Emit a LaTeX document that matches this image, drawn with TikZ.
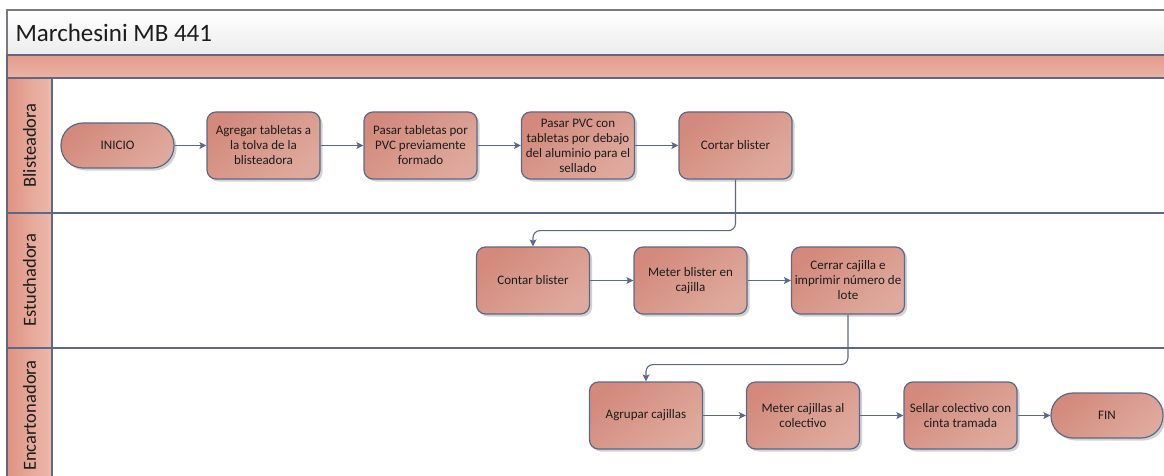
\documentclass[tikz,border=0pt]{standalone}
\usepackage{fontspec}
\setmainfont{Carlito}
\usetikzlibrary{arrows.meta,shadows}

\definecolor{edge}{HTML}{5D6788}
\definecolor{framegray}{HTML}{7A7A80}
\definecolor{titlelow}{HTML}{ECECEC}
\definecolor{bandtop}{HTML}{E29A8B}
\definecolor{bandlow}{HTML}{EBB4A6}
\definecolor{laneA}{HTML}{DE9383}
\definecolor{laneB}{HTML}{ECBAAD}
\definecolor{boxA}{HTML}{D38A7C}
\definecolor{boxB}{HTML}{DEAA9D}
\definecolor{ink}{HTML}{1C1C1C}

\tikzset{
  boxbase/.style={draw=edge, line width=1.2pt, top color=boxA, bottom color=boxB,
    shading angle=40, text=ink, align=center,
    font=\fontsize{13}{15}\selectfont, inner sep=2pt,
    drop shadow={shadow xshift=2.5pt, shadow yshift=-2.5pt, opacity=0.25, fill=black!70}},
  proc/.style={boxbase, rounded corners=9pt, minimum width=113pt, minimum height=67pt},
  term/.style={boxbase, rounded corners=22pt, minimum width=113pt, minimum height=45pt},
  flow/.style={draw=edge, line width=1.1pt, rounded corners=7pt,
    -{Stealth[length=7pt, width=7pt, inset=1.5pt]}},
  lanehead/.style={draw=edge, line width=1.2pt, left color=laneA, right color=laneB},
  lanelabel/.style={rotate=90, text=ink, font=\fontsize{18.5}{22}\selectfont},
  laneline/.style={draw=edge, line width=1.4pt}
}

\begin{document}
\begin{tikzpicture}[x=1pt, y=-1pt]
\useasboundingbox (0,0) rectangle (1164,476);
\begin{scope}
\clip (0,0) rectangle (1164,476);

% pool title bar
\draw[draw=framegray, line width=1.2pt, top color=white, bottom color=titlelow]
  (7,10) rectangle (1180,55);
\node[anchor=west, text=ink, font=\fontsize{25}{30}\selectfont] (title) at (12,33) {Marchesini MB 441};

% coloured band below the title
\draw[laneline, top color=bandtop, bottom color=bandlow] (7,55) rectangle (1180,78);

% lanes
\draw[laneline] (7,78) rectangle (1180,213);
\draw[laneline] (7,213) rectangle (1180,348);
\draw[laneline] (7,348) rectangle (1180,484);

\draw[lanehead] (7,78) rectangle (52,213);
\draw[lanehead] (7,213) rectangle (52,348);
\draw[lanehead] (7,348) rectangle (52,484);

\node[lanelabel] (laneblis) at (29.5,145.5) {Blisteadora};
\node[lanelabel] (laneestu) at (29.5,280.5) {Estuchadora};
\node[lanelabel] (laneenca) at (29.5,415.5) {Encartonadora};

% Blisteadora
\node[term] (inicio)  at (117.5,145.5) {INICIO};
\node[proc] (agregar) at (263.5,145.5) {Agregar tabletas a\\la tolva de la\\blisteadora};
\node[proc] (pasar)   at (420.5,145.5) {Pasar tabletas por\\PVC previamente\\formado};
\node[proc] (sellado) at (578,145.5)   {Pasar PVC con\\tabletas por debajo\\del aluminio para el\\sellado};
\node[proc] (cortar)  at (735.5,145.5) {Cortar blister};

% Estuchadora
\node[proc] (contar)  at (533,280.5)   {Contar blister};
\node[proc] (meterb)  at (690.5,280.5) {Meter blister en\\cajilla};
\node[proc] (cerrar)  at (848,280.5)   {Cerrar cajilla e\\imprimir número de\\lote};

% Encartonadora
\node[proc] (agrupar) at (646,415.5)   {Agrupar cajillas};
\node[proc] (meterc)  at (803,415.5)   {Meter cajillas al\\colectivo};
\node[proc] (sellar)  at (960.5,415.5) {Sellar colectivo con\\cinta tramada};
\node[term, minimum width=112pt] (fin) at (1107,415.5) {FIN};

% sequence flow
\draw[flow] (inicio) -- (agregar);
\draw[flow] (agregar) -- (pasar);
\draw[flow] (pasar) -- (sellado);
\draw[flow] (sellado) -- (cortar);
\draw[flow] (cortar.south) -- ++(0,51) -| (contar.north);
\draw[flow] (contar) -- (meterb);
\draw[flow] (meterb) -- (cerrar);
\draw[flow] (cerrar.south) -- ++(0,50) -| (agrupar.north);
\draw[flow] (agrupar) -- (meterc);
\draw[flow] (meterc) -- (sellar);
\draw[flow] (sellar) -- (fin);
\end{scope}
\end{tikzpicture}
\end{document}
